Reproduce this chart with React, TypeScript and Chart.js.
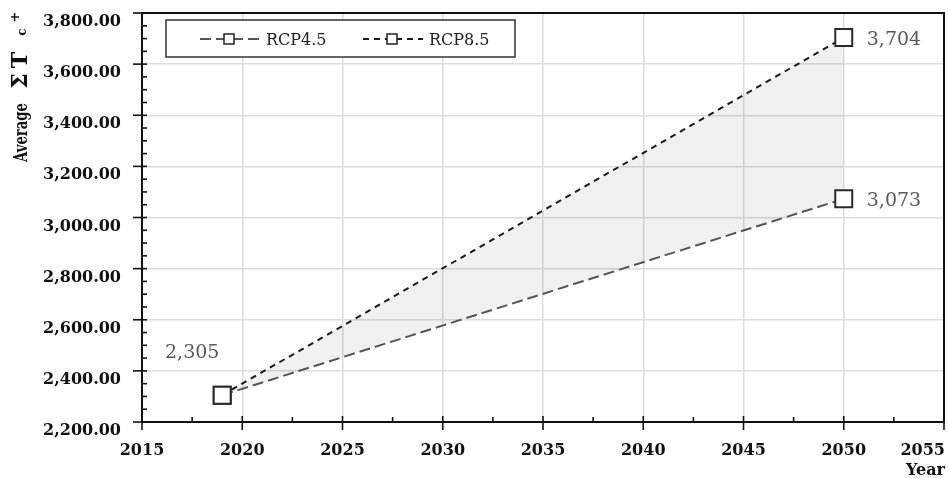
import { useEffect, useRef } from 'react';
import { Chart, registerables } from 'chart.js';

Chart.register(...registerables);

const years = [2019, 2050];
const rcp45 = [2305, 3073];
const rcp85 = [2305, 3704];
const seriesNames = ['RCP4.5', 'RCP8.5'];
const xTicks = [2015, 2020, 2025, 2030, 2035, 2040, 2045, 2050, 2055];
const yTicks = [2200, 2400, 2600, 2800, 3000, 3200, 3400, 3600, 3800];
const xMinorStep = 2.5;
const yMinorStep = 50;
const xTitle = 'Year';
const yTitleMain = 'Average';
const yTitleSigma = 'Σ';
const yTitleT = 'T';
const yTitleSub = 'c';
const yTitleSup = '+';

const SERIF = '"DejaVu Serif", serif';

const fmtInt = (v: number) => v.toLocaleString('en-US', { maximumFractionDigits: 0 });
const fmtTick = (v: number) =>
  v.toLocaleString('en-US', { minimumFractionDigits: 2, maximumFractionDigits: 2 });

const dashes: number[][] = [[11, 5], [6, 5]];
const colors = ['#555555', '#1a1a1a'];

const W = 948;
const H = 478;

const decor = {
  id: 'decor',
  afterDatasetsDraw(chart: any) {
    const { ctx } = chart;
    ctx.save();
    // legend box
    ctx.fillStyle = '#ffffff';
    ctx.fillRect(166, 20, 349, 37);
    ctx.strokeStyle = '#333';
    ctx.lineWidth = 1.5;
    ctx.strokeRect(166, 20, 349, 37);
    const starts = [200, 363];
    seriesNames.forEach((name, i) => {
      const x0 = starts[i];
      const ly = 39;
      ctx.strokeStyle = colors[i];
      ctx.lineWidth = 2;
      ctx.setLineDash(dashes[i]);
      ctx.beginPath();
      ctx.moveTo(x0, ly);
      ctx.lineTo(x0 + 60, ly);
      ctx.stroke();
      ctx.setLineDash([]);
      ctx.fillStyle = '#fff';
      ctx.strokeStyle = '#222';
      ctx.lineWidth = 1.5;
      ctx.fillRect(x0 + 24, ly - 5, 10, 10);
      ctx.strokeRect(x0 + 24, ly - 5, 10, 10);
      ctx.fillStyle = '#222';
      ctx.font = `16px ${SERIF}`;
      ctx.textAlign = 'left';
      ctx.textBaseline = 'alphabetic';
      ctx.fillText(name, x0 + 66, 45);
    });
    // data labels
    ctx.fillStyle = '#595959';
    ctx.font = `19px ${SERIF}`;
    ctx.textBaseline = 'alphabetic';
    const series = [rcp45, rcp85];
    series.forEach((vals, i) => {
      const meta = chart.getDatasetMeta(i);
      const last = meta.data[vals.length - 1];
      ctx.textAlign = 'left';
      ctx.fillText(fmtInt(vals[vals.length - 1]), last.x + 23, last.y + 7);
    });
    const first = chart.getDatasetMeta(0).data[0];
    ctx.textAlign = 'center';
    ctx.fillText(fmtInt(rcp45[0]), first.x - 30, first.y - 37);
    ctx.restore();
  },
  afterDraw(chart: any) {
    const { ctx, chartArea: a } = chart;
    const x = chart.scales.x;
    const y = chart.scales.y;
    ctx.save();
    ctx.strokeStyle = '#111';
    ctx.lineWidth = 2;
    ctx.strokeRect(a.left, a.top, a.right - a.left, a.bottom - a.top);
    const line = (x1: number, y1: number, x2: number, y2: number) => {
      ctx.beginPath();
      ctx.moveTo(x1, y1);
      ctx.lineTo(x2, y2);
      ctx.stroke();
    };
    ctx.lineWidth = 1.6;
    for (let v = yTicks[0]; v <= yTicks[yTicks.length - 1]; v += yMinorStep) {
      const py = y.getPixelForValue(v);
      if (yTicks.includes(v)) line(a.left - 9, py, a.left + 5, py);
      else line(a.left, py, a.left + 5, py);
    }
    for (let v = xTicks[0]; v <= xTicks[xTicks.length - 1]; v += xMinorStep) {
      const px = x.getPixelForValue(v);
      if (xTicks.includes(v)) line(px, a.bottom - 6, px, a.bottom + 8);
      else line(px, a.bottom - 5, px, a.bottom);
    }
    // tick labels
    ctx.fillStyle = '#111';
    ctx.font = `bold 16px ${SERIF}`;
    ctx.textBaseline = 'alphabetic';
    ctx.textAlign = 'right';
    yTicks.forEach((v) => {
      const py = y.getPixelForValue(v);
      ctx.fillText(fmtTick(v), a.left - 21, py + 13);
    });
    ctx.textAlign = 'center';
    xTicks.forEach((v) => {
      let px = x.getPixelForValue(v);
      const s = String(v);
      const w = ctx.measureText(s).width;
      px = Math.min(px, chart.width - w / 2 - 3);
      ctx.fillText(s, px, a.bottom + 33);
    });
    ctx.textAlign = 'right';
    ctx.fillText(xTitle, chart.width - 3, a.bottom + 53);
    // y title (rotated)
    ctx.translate(27, 162);
    ctx.rotate(-Math.PI / 2);
    ctx.textAlign = 'left';
    ctx.font = `bold 18px ${SERIF}`;
    const wMain = ctx.measureText(yTitleMain).width;
    ctx.save();
    ctx.scale(59 / wMain, 1);
    ctx.fillText(yTitleMain, 0, 0);
    ctx.restore();
    ctx.textAlign = 'center';
    ctx.font = `bold 22px ${SERIF}`;
    ctx.fillText(yTitleSigma, 81, 0);
    ctx.fillText(yTitleT, 102, 0);
    ctx.font = `bold 12px ${SERIF}`;
    ctx.fillText(yTitleSub, 130, -1);
    ctx.font = `bold 13px ${SERIF}`;
    ctx.fillText(yTitleSup, 145, -8);
    ctx.restore();
  },
};

export default function App() {
  const ref = useRef<HTMLCanvasElement>(null);
  useEffect(() => {
    if (!ref.current) return;
    const chart = new Chart(ref.current, {
      type: 'line',
      data: {
        datasets: [
          {
            label: seriesNames[0],
            data: years.map((yr, i) => ({ x: yr, y: rcp45[i] })),
            borderColor: colors[0],
            borderWidth: 2,
            borderDash: dashes[0],
            pointStyle: 'rect',
            pointRadius: 12,
            pointBorderWidth: 2,
            pointBorderColor: '#2a2a2a',
            pointBackgroundColor: '#ffffff',
            fill: false,
          },
          {
            label: seriesNames[1],
            data: years.map((yr, i) => ({ x: yr, y: rcp85[i] })),
            borderColor: colors[1],
            borderWidth: 2,
            borderDash: dashes[1],
            pointStyle: 'rect',
            pointRadius: 12,
            pointBorderWidth: 2,
            pointBorderColor: '#2a2a2a',
            pointBackgroundColor: '#ffffff',
            fill: { target: '-1' },
            backgroundColor: 'rgba(0,0,0,0.06)',
          },
        ],
      },
      options: {
        animation: false,
        responsive: false,
        devicePixelRatio: 1,
        layout: { autoPadding: false, padding: { left: 142, right: 4, top: 13, bottom: 56 } },
        plugins: { legend: { display: false }, tooltip: { enabled: false } },
        scales: {
          x: {
            type: 'linear',
            min: xTicks[0],
            max: xTicks[xTicks.length - 1],
            ticks: { display: false, stepSize: 5 },
            grid: { color: '#dcdcdc', lineWidth: 1.5, drawTicks: false },
            border: { display: false },
            afterFit: (s: any) => {
              s.height = 0;
            },
          },
          y: {
            min: yTicks[0],
            max: yTicks[yTicks.length - 1],
            ticks: { display: false, stepSize: 200 },
            grid: { color: '#dcdcdc', lineWidth: 1.5, drawTicks: false },
            border: { display: false },
            afterFit: (s: any) => {
              s.width = 0;
            },
          },
        },
      },
      plugins: [decor],
    } as any);
    return () => chart.destroy();
  }, []);
  return (
    <div style={{ position: 'absolute', left: 0, top: 0, width: W, height: H }}>
      <canvas ref={ref} width={W} height={H} style={{ display: 'block', width: W, height: H }} />
    </div>
  );
}
